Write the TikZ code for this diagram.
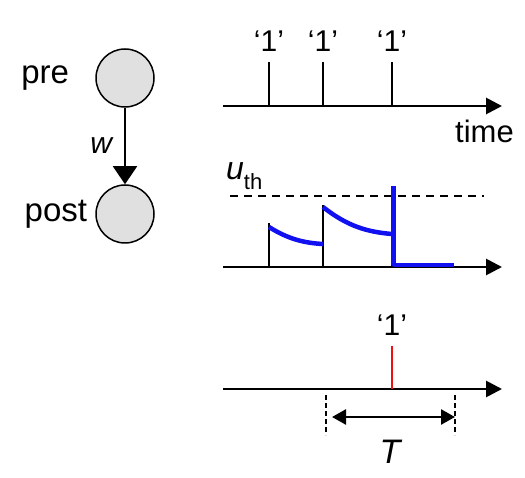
\documentclass[tikz,border=0pt]{standalone}
\usepackage{fontspec}
\setmainfont{Liberation Sans}
\usetikzlibrary{arrows.meta, positioning, calc}
\definecolor{SomaGray}{HTML}{E0E0E0}
\definecolor{MembBlue}{HTML}{1010F0}
\definecolor{SpikeRed}{HTML}{F01010}
\tikzset{
  neuron/.style={circle, draw=black, line width=1.5pt, fill=SomaGray,
    minimum size=58pt, inner sep=0pt},
  lbl/.style={font=\fontsize{33}{36}\selectfont, inner sep=0pt},
  onelbl/.style={font=\fontsize{30}{32}\selectfont, inner sep=0pt},
  axis/.style={line width=2.8pt, -{Triangle[length=16pt, width=16pt]}},
  spike/.style={line width=2.2pt},
  memb/.style={line width=4.5pt, draw=MembBlue, miter limit=1},
  thresh/.style={line width=1.3pt, dash pattern=on 8pt off 6pt},
  win/.style={line width=1.4pt, dash pattern=on 5pt off 3pt},
  syn/.style={line width=2pt, -{Triangle[length=18pt, width=24pt]}},
  span/.style={line width=2.6pt, {Triangle[length=14pt, width=15pt]}-{Triangle[length=14pt, width=15pt]}},
}

\begin{document}
\begin{tikzpicture}[x=1pt, y=-1pt]
    \useasboundingbox (0,0) rectangle (525,478);
    % neurons
    \node[neuron] (pre) at (125,78) {};
    \node[neuron] (post) at (125,214) {};
    \node[lbl, left=26pt of pre] (prelbl) {pre};
    \node[lbl, left=8pt of post] (postlbl) {post};
    \draw[syn] (pre) -- node[lbl, left=12pt, font=\fontsize{30}{32}\selectfont\itshape] (wlbl) {w} (post);

    % input spikes
    \coordinate (a1s) at (223,106);
    \coordinate (a1e) at (502,106);
    \draw[axis] (a1s) -- (a1e);
    \foreach \t/\n in {269/a, 323/b, 392/c} {
      \draw[spike] (\t,106) -- (\t,62) coordinate (in\n);
      \node[onelbl, above=10pt of in\n] (one\n) {‘1’};
    }
    \node[lbl, font=\fontsize{31}{33}\selectfont, below left=14pt and -12pt of a1e] (timelbl) {time};

    % membrane potential
    \coordinate (a2s) at (223,267);
    \coordinate (a2e) at (502,267);
    \draw[thresh] (230,196) coordinate (ths) -- (484,196) coordinate (the);
    \node[lbl, font=\fontsize{32}{34}\selectfont, anchor=base west] (uth) at (226,180)
      {\itshape u\upshape\raisebox{-0.3em}{\fontsize{22}{24}\selectfont th}};
    \draw[axis] (a2s) -- (a2e);
    \draw[spike] (269,267) -- (269,223);
    \draw[spike] (323,267) -- (323,205);
    \draw[spike] (392,267) -- (392,187);
    \draw[memb] (269,227) .. controls (288,239) and (304,243) .. (323,244);
    \draw[memb] (323,207) .. controls (347,226) and (367,232) .. (392,234);
    \draw[memb] (393.5,186) -- (393.5,265) -- (454,265);

    % output spike
    \coordinate (a3s) at (223,389);
    \coordinate (a3e) at (502,389);
    \draw[axis] (a3s) -- (a3e);
    \draw[spike, draw=SpikeRed] (392,389) -- (392,346) coordinate (outc);
    \node[onelbl, above=10pt of outc] (oneout) {‘1’};
    \draw[win] (326,395) coordinate (wl) -- (326,435);
    \draw[win] (455,395) coordinate (wr) -- (455,435);
    \coordinate (tl) at (332,417);
    \coordinate (tr) at (455,417);
    \draw[span] (tl) -- (tr);
    \node[lbl, font=\fontsize{34}{36}\selectfont\itshape] (tlbl) at (390,452) {T};
\end{tikzpicture}
\end{document}
